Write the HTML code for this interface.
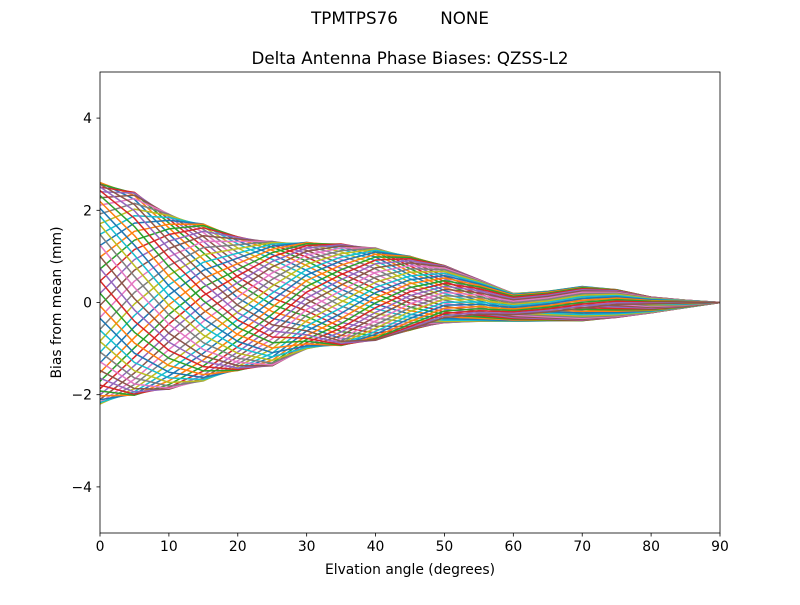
<!DOCTYPE html>
<html><head><meta charset="utf-8">
<style>
body{margin:0;background:#fff;}
svg text{font-family:"DejaVu Sans","Liberation Sans",sans-serif;fill:#000;}
</style></head>
<body>
<svg id="s" width="800" height="600" xmlns="http://www.w3.org/2000/svg">
<rect width="800" height="600" fill="#fff"/>
<text x="400" y="24" font-size="16.7" text-anchor="middle" xml:space="preserve">TPMTPS76        NONE</text>
<text x="410" y="64" font-size="16.7" text-anchor="middle">Delta Antenna Phase Biases: QZSS-L2</text>
<defs><clipPath id="c"><rect x="100" y="72" width="620" height="461"/></clipPath></defs>
<g id="lines" clip-path="url(#c)" fill="none" stroke-width="1.5" stroke-linejoin="round"></g>
<rect x="100" y="72" width="620" height="461" fill="none" stroke="#000" stroke-width="0.8"/>
<g id="ticks" font-size="13.9"></g>
<text x="410" y="574" font-size="13.9" text-anchor="middle">Elvation angle (degrees)</text>
<text transform="translate(61,302.5) rotate(-90)" font-size="13.9" text-anchor="middle">Bias from mean (mm)</text>
</svg>
<script>
var X=function(e){return 100+e*620/90;};
var Y=function(v){return 302.5-v*46.1;};
var tk=document.getElementById('ticks'),h='';
for(var e=0;e<=90;e+=10){var x=X(e);h+='<line x1="'+x+'" y1="533" x2="'+x+'" y2="536.5" stroke="#000" stroke-width="0.8"/><text x="'+x+'" y="551" text-anchor="middle">'+e+'</text>';}
[-4,-2,0,2,4].forEach(function(v){var y=Y(v);h+='<line x1="96.5" y1="'+y+'" x2="100" y2="'+y+'" stroke="#000" stroke-width="0.8"/><text x="92" y="'+(y+5)+'" text-anchor="end">'+(v<0?'\u2212'+(-v):v)+'</text>';});
tk.innerHTML=h;
var cols=['#1f77b4','#ff7f0e','#2ca02c','#d62728','#9467bd','#8c564b','#e377c2','#7f7f7f','#bcbd22','#17becf'];
var Ae=[2.4,2.2,1.9,1.7,1.45,1.35,1.15,1.1,1.0,0.8,0.62,0.45,0.3,0.32,0.37,0.3,0.17,0.08,0];
var Be=[0.2,0.15,0.05,0,-0.05,0,0.15,0.15,0.2,0.2,0.17,0.05,-0.1,-0.08,-0.03,-0.02,-0.05,-0.03,0];
var g='';
var N=56;
for(var k=0;k<N;k++){
 var az=k*2*Math.PI/N,d='';
 for(var i=0;i<19;i++){
  var e=i*5,ph=e*4.2*Math.PI/180;
  if(e>50) ph=210*Math.PI/180+(e-50)*2*Math.PI/180;
  var v=Be[i]+Ae[i]*Math.cos(az-ph)*(1+0.02*Math.sin(3*az+i));
  d+=(i?'L':'M')+X(e).toFixed(1)+' '+Y(v).toFixed(1);
 }
 g+='<path d="'+d+'" stroke="'+cols[k%10]+'"/>';
}
document.getElementById('lines').innerHTML=g;
</script>
</body></html>
